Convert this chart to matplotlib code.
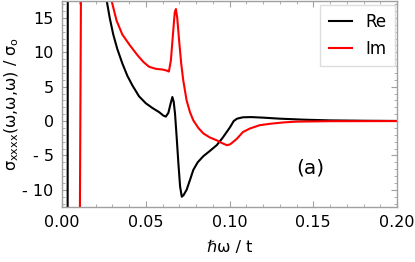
import matplotlib
matplotlib.use("Agg")
import matplotlib.pyplot as plt
from matplotlib.ticker import MultipleLocator, FuncFormatter

# Data (values off-chart are clipped by the axes)
re_x = [0.001, 0.0033, 0.0035, 0.010, 0.020, 0.024, 0.0267, 0.0285, 0.0306, 0.033,
        0.036, 0.039, 0.042, 0.046, 0.050, 0.054, 0.058, 0.0605, 0.0620, 0.0635,
        0.0648, 0.0659, 0.0667, 0.0675, 0.0685, 0.0695, 0.0705, 0.0715, 0.0725,
        0.0744, 0.0765, 0.0784, 0.081, 0.0844, 0.088, 0.0924, 0.096, 0.1003,
        0.1025, 0.1045, 0.108, 0.113, 0.120, 0.130, 0.145, 0.160, 0.180, 0.200]
re_y = [-40, -40, 40, 80, 40, 24, 17.5, 15.0, 12.6, 10.5,
        8.4, 6.6, 5.2, 3.6, 2.6, 1.9, 1.3, 0.8, 0.65, 1.2,
        2.5, 3.5, 2.8, 1.0, -2.5, -6.2, -9.5, -11.0, -10.8,
        -10.0, -8.5, -7.1, -6.0, -5.1, -4.4, -3.5, -2.4, -0.9,
        0.0, 0.35, 0.55, 0.58, 0.5, 0.35, 0.2, 0.1, 0.05, 0.02]

im_x = [0.001, 0.0100, 0.0107, 0.0113, 0.0120, 0.020, 0.027, 0.0296, 0.0326, 0.036,
        0.0406, 0.045, 0.0486, 0.052, 0.056, 0.060, 0.0625, 0.0638, 0.0650, 0.0662,
        0.0673, 0.0680, 0.0688, 0.0700, 0.0712, 0.0724, 0.0744, 0.0764, 0.0784,
        0.0814, 0.0844, 0.0884, 0.0924, 0.0955, 0.0983, 0.1003, 0.1043, 0.108,
        0.112, 0.118, 0.124, 0.132, 0.140, 0.160, 0.200]
im_y = [-40, -40, -12.5, 17.5, 40, 80, 25, 17.5, 14.6, 12.6,
        11.0, 9.6, 8.6, 7.9, 7.6, 7.5, 7.35, 7.2, 8.8, 12.5,
        15.8, 16.3, 15.0, 11.5, 8.3, 5.9, 3.0, 1.3, 0.1,
        -1.0, -1.8, -2.4, -2.8, -3.2, -3.5, -3.4, -2.6, -1.6,
        -1.1, -0.6, -0.4, -0.2, -0.08, -0.02, 0.0]

series_labels = ["Re", "Im"]
x_ticks = [0.00, 0.05, 0.10, 0.15, 0.20]
y_ticks = [-10, -5, 0, 5, 10, 15]

plt.rcParams['font.family'] = ['DejaVu Sans']

fig = plt.figure(figsize=(4.15, 2.62), dpi=100)
ax = fig.add_axes([62/415, 1 - 207/262, (397-62)/415, 207/262 - 0.003])

ax.plot(re_x, re_y, color='black', lw=1.5, label=series_labels[0])
ax.plot(im_x, im_y, color='#ff0000', lw=1.5, label=series_labels[1])

ax.set_xlim(0, 0.2)
ax.set_ylim(-12.5, 17.5)

ax.set_xticks(x_ticks)
ax.set_yticks(y_ticks)
ax.xaxis.set_minor_locator(MultipleLocator(0.01))
ax.yaxis.set_minor_locator(MultipleLocator(1))
ax.xaxis.set_major_formatter(FuncFormatter(lambda v, p: f"{v:.2f}"))
ax.yaxis.set_major_formatter(FuncFormatter(lambda v, p: f"- {abs(v):g}" if v < 0 else f"{v:g}"))

gray = '#a0a0a0'
for s in ax.spines.values():
    s.set_color(gray)
    s.set_linewidth(1.0)
ax.tick_params(which='both', direction='in', top=True, right=True, color=gray,
               labelsize=11.5, labelcolor='black')
ax.tick_params(which='major', length=4.5, width=0.8, pad=6)
ax.tick_params(which='minor', length=2.5, width=0.6)

ax.set_xlabel("ℏω / t", fontsize=11.5, labelpad=7)
ax.set_ylabel(r"σ$_\mathregular{xxxx}$(ω,ω,ω) / σ$_\mathregular{o}$", fontsize=11.5, labelpad=1)

ax.text(0.148, -6.8, "(a)", fontsize=14.5, ha='center', va='center')

leg = ax.legend(loc='upper right', bbox_to_anchor=(0.998, 0.988), fontsize=12,
                frameon=True, fancybox=False, framealpha=1, edgecolor='#dddddd',
                handlelength=1.4, handletextpad=0.8, labelspacing=0.5,
                borderpad=0.5, borderaxespad=0.1)
leg.get_frame().set_linewidth(1.0)

fig.savefig("out.png", dpi=100)
